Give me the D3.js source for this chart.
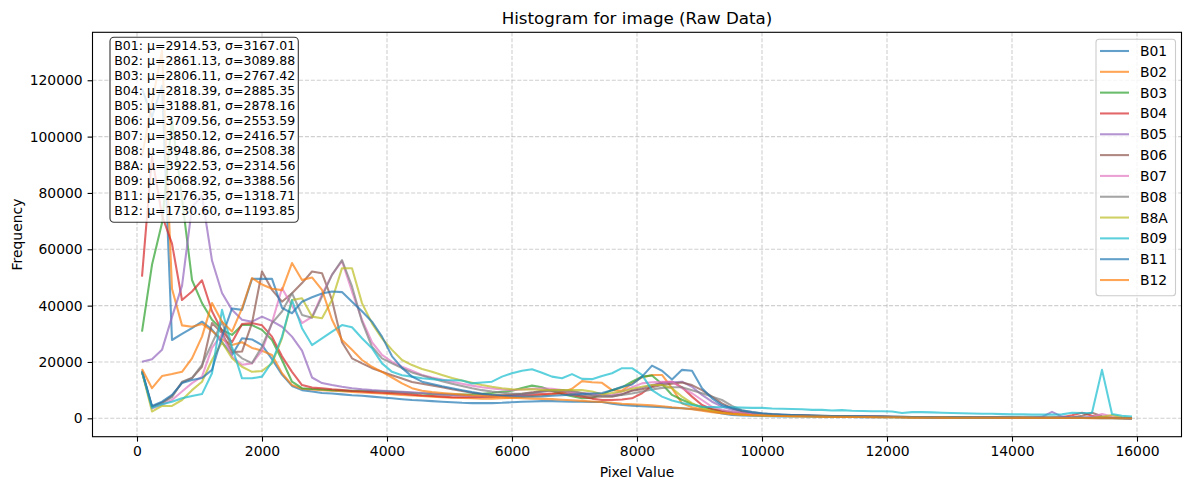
<!DOCTYPE html>
<meta charset="utf-8">
<style>
body { margin: 0; background: #fff; }
text { font-family: "DejaVu Sans", sans-serif; fill: #000; }
.grid line { stroke: #b0b0b0; stroke-opacity: 0.6; stroke-dasharray: 4.1,1.8; stroke-width: 1.1px; }
.axis path { display: none; }
.axis line { stroke: #000; stroke-width: 1.1px; }
.axis text { font-size: 13.9px; }
.series { fill: none; stroke-width: 2.08px; stroke-opacity: 0.7; stroke-linejoin: round; }
</style>
<svg width="1189" height="490"></svg>
<script src="https://d3js.org/d3.v7.min.js"></script>
<script>

var bands = ["B01", "B02", "B03", "B04", "B05", "B06", "B07", "B08", "B8A", "B09", "B11", "B12"];

// histogram: 100 bins over [0, 16000]
var histRange = [0, 16000];
var nBins = 100;

var xTicks = [0, 2000, 4000, 6000, 8000, 10000, 12000, 14000, 16000];
var yTicks = [0, 20000, 40000, 60000, 80000, 100000, 120000];

var means = [2914.53, 2861.13, 2806.11, 2818.39, 3188.81, 3709.56, 3850.12, 3948.86, 3922.53, 5068.92, 2176.35, 1730.60];
var stds = [3167.01, 3089.88, 2767.42, 2885.35, 2878.16, 2553.59, 2416.57, 2508.38, 2314.56, 3388.56, 1318.71, 1193.85];

var B01 = [117000, 107000, 118000, 27800, 30000, 32000, 34300, 31500, 27000, 22500,
  28400, 28000, 26000, 21000, 15500, 11500, 10000, 9500, 9000, 8800,
  8500, 8200, 8000, 7700, 7400, 7100, 6800, 6500, 6300, 6100,
  5900, 5700, 5500, 5400, 5400, 5400, 5500, 5700, 5900, 6000,
  6100, 6100, 6000, 5900, 5900, 5800, 5800, 5200, 4700, 4500,
  4300, 4100, 3900, 3700, 3600, 3300, 3000, 2400, 1700, 1200,
  1000, 900, 800, 750, 700, 660, 620, 580, 550, 520,
  490, 460, 430, 400, 380, 360, 340, 320, 300, 280,
  260, 240, 220, 210, 200, 190, 180, 170, 160, 150,
  140, 130, 120, 110, 100, 90, 80, 70, 60, 40];

var B02 = [93000, 112000, 130500, 46000, 33000, 32500, 33500, 31000, 28000, 26000,
  27000, 25000, 24000, 22500, 16000, 11800, 10500, 10200, 10000, 9800,
  9600, 9400, 9200, 9000, 8800, 8600, 8300, 8100, 7900, 7700,
  7500, 7300, 7200, 7100, 7000, 7000, 7100, 7300, 7600, 7900,
  8200, 8500, 9200, 10500, 13200, 12800, 12600, 10000, 9800, 12400,
  14500, 15400, 15400, 10700, 5300, 3900, 3200, 2600, 2100, 1800,
  1500, 1300, 1150, 1050, 980, 920, 860, 800, 750, 700,
  660, 620, 580, 540, 500, 470, 440, 410, 380, 350,
  330, 310, 290, 270, 250, 230, 210, 200, 190, 180,
  170, 160, 150, 140, 130, 120, 110, 90, 70, 50];

var B03 = [30800, 54500, 69300, 106000, 78000, 49100, 40900, 35000, 31400, 29600,
  33100, 33100, 31400, 27800, 20700, 13000, 10700, 10400, 10200, 10000,
  9900, 9800, 9800, 9700, 9600, 9400, 9200, 9000, 8800, 8600,
  8500, 8400, 8400, 8500, 8700, 9000, 9400, 9800, 10800, 11600,
  11000, 9700, 8600, 7800, 7100, 7200, 8500, 10000, 11000, 13000,
  14800, 15200, 12200, 8300, 6600, 5100, 4000, 3300, 2700, 2200,
  1800, 1500, 1300, 1150, 1050, 980, 910, 850, 790, 740,
  690, 640, 600, 560, 520, 490, 460, 430, 400, 370,
  340, 320, 300, 280, 260, 240, 220, 210, 200, 190,
  180, 170, 160, 150, 140, 130, 110, 90, 70, 50];

var B04 = [50300, 93000, 72000, 62000, 42000, 45000, 49000, 38000, 31000, 27000,
  33500, 33800, 33000, 29000, 22000, 16500, 11800, 10900, 10700, 10300,
  10000, 9700, 9500, 9300, 9100, 8900, 8700, 8400, 8100, 7900,
  7700, 7500, 7500, 7500, 7600, 7700, 7900, 8100, 8300, 8400,
  8600, 8800, 8900, 8300, 7700, 7000, 6500, 6500, 6700, 7100,
  8900, 11500, 12700, 13000, 11000, 7700, 4700, 3200, 2500, 2000,
  1700, 1500, 1300, 1150, 1050, 970, 900, 840, 780, 730,
  680, 630, 590, 550, 510, 480, 450, 420, 390, 360,
  340, 320, 300, 280, 260, 240, 220, 210, 200, 190,
  180, 200, 400, 1100, 2000, 900, 300, 150, 90, 50];

var B05 = [20100, 21000, 24300, 36000, 47000, 75000, 79000, 56000, 44500, 38500,
  35000, 34300, 36100, 34500, 32500, 29000, 24000, 14500, 12500, 11800,
  11200, 10700, 10300, 10000, 9800, 9600, 9400, 9200, 9000, 8800,
  8500, 8300, 8100, 7900, 7800, 7800, 7900, 8100, 8500, 9000,
  9500, 9900, 10000, 9400, 8900, 8500, 8200, 7900, 8500, 10000,
  10800, 11800, 12400, 12800, 13000, 11200, 8300, 5900, 4200, 3000,
  2300, 1800, 1500, 1300, 1150, 1050, 970, 900, 840, 780,
  730, 680, 630, 590, 550, 510, 480, 450, 420, 390,
  360, 340, 320, 300, 280, 260, 240, 220, 210, 200,
  500, 2300, 600, 200, 180, 160, 140, 110, 80, 50];

var B06 = [16500, 4000, 5500, 8000, 12700, 14300, 18300, 33800, 30300, 23500,
  23700, 33800, 52100, 45600, 41400, 44400, 48000, 52100, 51500, 42000,
  27000, 21300, 19500, 17800, 16500, 15300, 14100, 12900, 12300, 11700,
  11000, 10300, 9700, 9100, 8600, 8300, 8300, 8400, 8700, 9200,
  9800, 10000, 9600, 8900, 8000, 7700, 7700, 7700, 8500, 9800,
  10300, 11000, 11800, 12300, 12700, 11800, 10000, 7700, 5300, 3600,
  2500, 1900, 1500, 1300, 1150, 1050, 970, 900, 840, 780,
  730, 680, 630, 590, 550, 510, 480, 450, 420, 390,
  360, 340, 320, 300, 280, 260, 240, 220, 210, 200,
  190, 180, 170, 300, 900, 2000, 700, 200, 100, 50];

var B07 = [16500, 3500, 4800, 6500, 9500, 12500, 14800, 25000, 30000, 21900,
  19000, 19500, 24000, 34000, 46200, 40000, 33800, 36000, 44000, 51000,
  55800, 45000, 35000, 27000, 22500, 20000, 18300, 16900, 15400, 14500,
  13800, 13000, 12300, 11600, 11000, 10600, 10200, 10000, 10200, 10500,
  10700, 10500, 10000, 9300, 8900, 8600, 8400, 8300, 9500, 11000,
  12400, 12800, 13000, 13000, 10700, 8900, 6500, 4100, 3000, 2300,
  1800, 1500, 1300, 1150, 1050, 970, 900, 840, 780, 730,
  680, 630, 590, 550, 510, 480, 450, 420, 390, 360,
  340, 320, 300, 280, 260, 240, 220, 210, 200, 190,
  180, 170, 160, 150, 200, 500, 1500, 600, 150, 50];

var B08 = [16500, 4100, 5500, 7500, 13000, 14300, 19000, 26600, 34300, 24300,
  21300, 19600, 25400, 33800, 37900, 44400, 36700, 35700, 43200, 50900,
  56200, 46800, 34300, 25400, 21300, 19500, 17800, 16300, 15200, 14200,
  13200, 12300, 11500, 10700, 10000, 9500, 9100, 8800, 8700, 8900,
  9400, 10000, 10000, 9700, 9000, 8200, 7900, 8000, 8300, 8800,
  9500, 10200, 10800, 11000, 11000, 10000, 8900, 7700, 6500, 4400,
  2900, 2200, 1700, 1400, 1250, 1150, 1050, 980, 910, 850,
  790, 740, 690, 640, 600, 560, 520, 490, 460, 430,
  400, 370, 350, 330, 310, 290, 270, 250, 230, 210,
  200, 190, 180, 170, 160, 150, 140, 120, 90, 60];

var B8A = [16500, 2400, 4400, 4400, 6500, 10000, 13000, 20700, 27000, 21300,
  18300, 16500, 16800, 19500, 28400, 42000, 42600, 36100, 35500, 42000,
  53300, 53300, 40900, 33700, 28400, 24300, 20700, 18900, 17500, 16500,
  15400, 14300, 13400, 12600, 11800, 11200, 10700, 10300, 10200, 10300,
  10100, 10000, 10000, 10000, 10000, 9500, 8500, 9000, 9500, 10500,
  11200, 11800, 11800, 10700, 7700, 5400, 3600, 2600, 2000, 1600,
  1300, 1100, 1000, 900, 830, 770, 720, 670, 620, 580,
  540, 500, 470, 440, 410, 380, 360, 340, 320, 300,
  280, 260, 240, 230, 220, 210, 200, 190, 180, 170,
  160, 150, 140, 130, 130, 200, 500, 1200, 400, 50];

var B09 = [16500, 3700, 5000, 5900, 7100, 7900, 8600, 16000, 38500, 25400,
  14200, 14200, 14800, 20000, 29000, 42000, 32000, 26000, 28400, 30800,
  33100, 32300, 28400, 24900, 19500, 16500, 15300, 14800, 14200, 13900,
  13600, 13500, 13400, 12400, 12700, 13000, 14800, 16000, 16900, 17400,
  16200, 14800, 14200, 15700, 14000, 13900, 15000, 16000, 17800, 17800,
  15400, 10000, 7700, 6300, 5400, 4700, 4100, 4000, 3900, 3900,
  3800, 3700, 3700, 3500, 3400, 3300, 3200, 3000, 3000, 2800,
  2900, 2700, 2600, 2500, 2500, 2400, 1900, 2200, 2200, 2100,
  2000, 1900, 1800, 1700, 1600, 1600, 1500, 1400, 1400, 1300,
  1300, 1300, 1400, 2000, 1900, 2000, 17200, 1500, 900, 600];

var B11 = [17000, 4400, 5900, 8300, 12500, 13600, 14300, 17200, 29000, 39000,
  38500, 49500, 49500, 49500, 39200, 37300, 41400, 43000, 44300, 45000,
  44800, 41400, 38000, 34300, 29000, 22000, 17900, 14800, 13000, 12200,
  11400, 10700, 10000, 9300, 8700, 8300, 8000, 7800, 7700, 7700,
  7800, 8000, 8200, 8400, 8600, 8800, 9000, 10000, 11200, 12000,
  14800, 18700, 16900, 13800, 17200, 16900, 10700, 7100, 4700, 3600,
  2800, 2200, 1800, 1500, 1300, 1150, 1050, 970, 900, 840,
  780, 730, 680, 630, 590, 550, 510, 480, 450, 420,
  390, 360, 340, 320, 300, 280, 260, 240, 220, 210,
  200, 190, 180, 170, 160, 150, 140, 120, 90, 60];

var B12 = [17500, 10700, 15000, 15700, 16500, 21300, 29000, 40900, 34300, 30800,
  39000, 49800, 47500, 46000, 45500, 55100, 49100, 50000, 45600, 35000,
  27800, 24300, 20700, 18300, 16500, 14500, 12400, 10700, 9800, 9300,
  9000, 8700, 8400, 8100, 7900, 7700, 7500, 7300, 7100, 7000,
  6900, 6800, 6600, 6400, 6200, 6000, 5800, 5500, 5200, 5000,
  4800, 4600, 4300, 3900, 3600, 3200, 2700, 2200, 1800, 1500,
  1300, 1100, 1000, 900, 820, 750, 690, 640, 590, 550,
  510, 470, 440, 410, 380, 350, 330, 310, 290, 270,
  250, 230, 210, 200, 190, 180, 170, 160, 150, 140,
  130, 120, 110, 100, 90, 80, 70, 60, 50, 40];

var counts = [B01, B02, B03, B04, B05, B06, B07, B08, B8A, B09, B11, B12];

var svg = d3.select("svg");

var plot = { left: 92.5, right: 1181.5, top: 32.3, bottom: 436.7 };

var binWidth = (histRange[1] - histRange[0]) / nBins;
var centers = d3.range(nBins).map(function(i) { return histRange[0] + binWidth * (i + 0.5); });

// matplotlib style 5% margins
var xPad = 0.05 * (centers[nBins - 1] - centers[0]);
var x = d3.scaleLinear()
    .domain([centers[0] - xPad, centers[nBins - 1] + xPad])
    .range([plot.left, plot.right]);

var yMax = d3.max(counts, function(c) { return d3.max(c); });
var y = d3.scaleLinear()
    .domain([-0.05 * yMax, yMax * 1.05])
    .range([plot.bottom, plot.top]);

var color = d3.scaleOrdinal(d3.schemeCategory10);

svg.append("defs").append("clipPath")
    .attr("id", "clip")
  .append("rect")
    .attr("x", plot.left).attr("y", plot.top)
    .attr("width", plot.right - plot.left).attr("height", plot.bottom - plot.top);

// grid
var grid = svg.append("g").attr("class", "grid");
grid.selectAll(".gx").data(xTicks).enter().append("line")
    .attr("x1", function(d) { return x(d); }).attr("x2", function(d) { return x(d); })
    .attr("y1", plot.top).attr("y2", plot.bottom);
grid.selectAll(".gy").data(yTicks).enter().append("line")
    .attr("y1", function(d) { return y(d); }).attr("y2", function(d) { return y(d); })
    .attr("x1", plot.left).attr("x2", plot.right);

// lines
var line = d3.line()
    .x(function(d, i) { return x(centers[i]); })
    .y(function(d) { return y(d); });

svg.append("g").attr("clip-path", "url(#clip)")
  .selectAll("path")
  .data(counts)
  .enter().append("path")
    .attr("class", "series")
    .attr("stroke", function(d, i) { return color(i % 10); })
    .attr("d", line);

// axes
var fmt = d3.format("d");
svg.append("g")
    .attr("class", "axis")
    .attr("transform", "translate(0," + plot.bottom + ")")
    .call(d3.axisBottom(x).tickValues(xTicks).tickFormat(fmt).tickSize(4.9).tickPadding(4.9));
svg.append("g")
    .attr("class", "axis")
    .attr("transform", "translate(" + plot.left + ",0)")
    .call(d3.axisLeft(y).tickValues(yTicks).tickFormat(fmt).tickSize(4.9).tickPadding(4.9));

svg.append("rect")
    .attr("x", plot.left).attr("y", plot.top)
    .attr("width", plot.right - plot.left).attr("height", plot.bottom - plot.top)
    .attr("fill", "none").attr("stroke", "#000").attr("stroke-width", 1.1);

// titles
svg.append("text")
    .attr("x", (plot.left + plot.right) / 2).attr("y", 24)
    .attr("text-anchor", "middle").style("font-size", "16.7px")
    .text("Histogram for image (Raw Data)");
svg.append("text")
    .attr("x", (plot.left + plot.right) / 2).attr("y", 477)
    .attr("text-anchor", "middle").style("font-size", "13.9px")
    .text("Pixel Value");
svg.append("text")
    .attr("transform", "translate(22," + (plot.top + plot.bottom) / 2 + ") rotate(-90)")
    .attr("text-anchor", "middle").style("font-size", "13.9px")
    .text("Frequency");

// stats box
var stats = svg.append("g");
stats.append("rect")
    .attr("x", 110).attr("y", 37.3).attr("width", 188.3).attr("height", 185)
    .attr("rx", 4).attr("fill", "#fff").attr("fill-opacity", 0.8)
    .attr("stroke", "#000").attr("stroke-opacity", 0.8).attr("stroke-width", 1.1);
stats.selectAll("text")
  .data(bands)
  .enter().append("text")
    .attr("x", 114.3)
    .attr("y", function(d, i) { return 49.5 + i * 15; })
    .style("font-size", "12.5px")
    .text(function(d, i) { return d + ": μ=" + means[i].toFixed(2) + ", σ=" + stds[i].toFixed(2); });

// legend
var legend = svg.append("g");
legend.append("rect")
    .attr("x", 1096).attr("y", 39.3).attr("width", 79.5).attr("height", 256.5)
    .attr("rx", 3).attr("fill", "#fff").attr("fill-opacity", 0.8)
    .attr("stroke", "#cccccc").attr("stroke-width", 1.1);
var item = legend.selectAll(".item")
  .data(bands)
  .enter().append("g")
    .attr("transform", function(d, i) { return "translate(0," + (51 + i * 20.82) + ")"; });
item.append("line")
    .attr("x1", 1100).attr("x2", 1129)
    .attr("stroke", function(d, i) { return color(i % 10); })
    .attr("stroke-width", 2.08).attr("stroke-opacity", 0.7);
item.append("text")
    .attr("x", 1140).attr("dy", "0.36em")
    .style("font-size", "13.9px")
    .text(function(d) { return d; });

</script>
